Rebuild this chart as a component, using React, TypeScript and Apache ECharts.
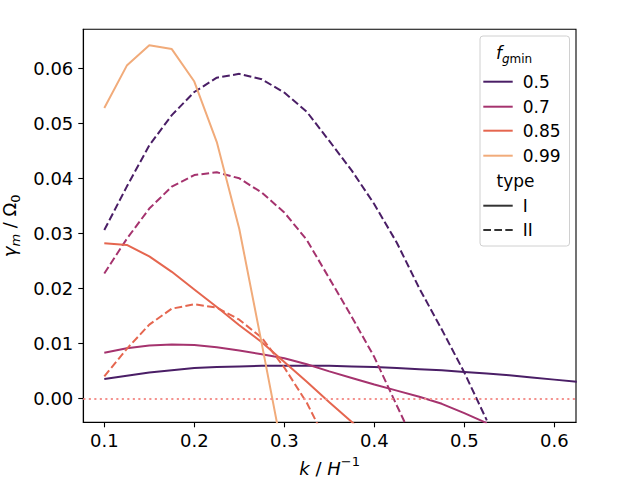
import React, { useEffect, useRef } from "react";
import * as echarts from "echarts";

// ---- data ----
const kValues = [0.1, 0.125, 0.15, 0.175, 0.2, 0.225, 0.25, 0.275, 0.3, 0.325, 0.35, 0.375, 0.4, 0.425, 0.45, 0.475, 0.5, 0.525, 0.55, 0.575, 0.6, 0.625];

const f050TypeI = [0.0035, 0.0041, 0.0047, 0.0051, 0.0055, 0.0057, 0.0058, 0.0059, 0.0059, 0.0059, 0.0059, 0.0058, 0.0057, 0.0055, 0.0053, 0.0051, 0.0048, 0.0045, 0.0042, 0.0038, 0.0034, 0.0030];
const f050TypeII = [0.0306, 0.0385, 0.0460, 0.0515, 0.0557, 0.0583, 0.0590, 0.0580, 0.0556, 0.0521, 0.0468, 0.0414, 0.0353, 0.0283, 0.0200, 0.0125, 0.0047, -0.0040, null, null, null, null];
const f070TypeI = [0.0083, 0.0091, 0.0096, 0.0098, 0.0097, 0.0093, 0.0087, 0.0080, 0.0073, 0.0062, 0.0049, 0.0037, 0.0025, 0.0014, 0.0003, -0.0010, -0.0027, -0.0045, null, null, null, null];
const f070TypeII = [0.0227, 0.0290, 0.0345, 0.0385, 0.0406, 0.0411, 0.0400, 0.0374, 0.0338, 0.0288, 0.0218, 0.0148, 0.0075, -0.0013, -0.0100, null, null, null, null, null, null, null];
const f085TypeI = [0.0282, 0.0279, 0.0258, 0.0230, 0.0198, 0.0166, 0.0133, 0.0102, 0.0066, 0.0030, -0.0007, -0.0043, -0.0080, null, null, null, null, null, null, null, null, null];
const f085TypeII = [0.0040, 0.0090, 0.0134, 0.0163, 0.0171, 0.0165, 0.0143, 0.0110, 0.0056, -0.0008, -0.0090, null, null, null, null, null, null, null, null, null, null, null];
const f099TypeI = [0.0528, 0.0605, 0.0642, 0.0635, 0.0576, 0.0466, 0.0308, 0.0099, -0.0114, null, null, null, null, null, null, null, null, null, null, null, null, null];

const fLabels = ["0.5", "0.7", "0.85", "0.99"];
const typeLabels = ["I", "II"];
const xTicks = [0.1, 0.2, 0.3, 0.4, 0.5, 0.6];
const yTicks = [0, 0.01, 0.02, 0.03, 0.04, 0.05, 0.06];

const COLORS = ["#4a1e66", "#a5336e", "#e5664f", "#f1ab7a"];
const DASH = [7.7, 3.3];
const FONT = "DejaVu Sans";
const TICK_FS = 18;
const LEG_FS = 17;

const seriesDefs = [
  { f: 0, t: 0, data: f050TypeI },
  { f: 0, t: 1, data: f050TypeII },
  { f: 1, t: 0, data: f070TypeI },
  { f: 1, t: 1, data: f070TypeII },
  { f: 2, t: 0, data: f085TypeI },
  { f: 2, t: 1, data: f085TypeII },
  { f: 3, t: 0, data: f099TypeI },
];

function buildOption() {
  const series: any[] = seriesDefs.map((d, i) => ({
    type: "line",
    name: fLabels[d.f] + " " + typeLabels[d.t],
    data: kValues.map((k, j) => [k, d.data[j]]),
    showSymbol: false,
    symbol: "none",
    connectNulls: false,
    clip: true,
    z: 3,
    lineStyle: { color: COLORS[d.f], width: 2, type: d.t === 1 ? DASH : "solid" },
    itemStyle: { color: COLORS[d.f] },
    markLine:
      i === 0
        ? {
            silent: true,
            symbol: ["none", "none"],
            label: { show: false },
            lineStyle: { color: "#f4928e", width: 2, type: [2.1, 3.4] },
            data: [{ yAxis: 0 }],
          }
        : undefined,
  }));

  const legendX = 480;
  const legendRows = [81.7, 106.7, 130.7, 155.7];
  const graphicEls: any[] = [
    {
      type: "rect",
      shape: { x: 480, y: 36, width: 89.5, height: 210, r: 3 },
      style: { fill: "rgba(255,255,255,0.8)", stroke: "#d0d0d0", lineWidth: 1 },
      z: 10,
    },
    {
      type: "text",
      x: 514,
      y: 53,
      z: 11,
      style: {
        text: "{f|f}{g|g}{m|min}",
        align: "center",
        verticalAlign: "middle",
        fill: "#000",
        rich: {
          f: { fontSize: LEG_FS, fontStyle: "italic", fontFamily: FONT, lineHeight: 24, fill: "#000" },
          g: { fontSize: 12, fontStyle: "italic", fontFamily: FONT, verticalAlign: "bottom", lineHeight: 14, fill: "#000" },
          m: { fontSize: 12, fontFamily: FONT, verticalAlign: "bottom", lineHeight: 14, fill: "#000" },
        },
      },
    },
  ];
  fLabels.forEach((lab, i) => {
    graphicEls.push({
      type: "line",
      z: 11,
      shape: { x1: legendX + 3.3, y1: legendRows[i], x2: legendX + 32.7, y2: legendRows[i] },
      style: { stroke: COLORS[i], lineWidth: 2 },
    });
    graphicEls.push({
      type: "text",
      z: 11,
      x: 522.7,
      y: legendRows[i],
      style: { text: lab, fontSize: LEG_FS, fontFamily: FONT, fill: "#000", align: "left", verticalAlign: "middle" },
    });
  });
  graphicEls.push({
    type: "text",
    z: 11,
    x: 515.5,
    y: 180.7,
    style: { text: "type", fontSize: LEG_FS, fontFamily: FONT, fill: "#000", align: "center", verticalAlign: "middle" },
  });
  const typeRows = [205.7, 230];
  typeLabels.forEach((lab, i) => {
    graphicEls.push({
      type: "line",
      z: 11,
      shape: { x1: legendX + 3.3, y1: typeRows[i], x2: legendX + 32.7, y2: typeRows[i] },
      style: { stroke: "#333333", lineWidth: 2, lineDash: i === 1 ? DASH : null },
    });
    graphicEls.push({
      type: "text",
      z: 11,
      x: 522.7,
      y: typeRows[i],
      style: { text: lab, fontSize: LEG_FS, fontFamily: FONT, fill: "#000", align: "left", verticalAlign: "middle" },
    });
  });

  return {
    animation: false,
    backgroundColor: "#ffffff",
    grid: {
      left: 83.3,
      right: 64,
      top: 29.3,
      bottom: 57.7,
      containLabel: false,
      outerBoundsMode: "none",
      show: true,
      borderColor: "#000",
      borderWidth: 1.1,
      backgroundColor: "transparent",
    },
    xAxis: {
      type: "value",
      min: 0.07667,
      max: 0.6241,
      splitLine: { show: false },
      axisLine: { show: true, onZero: false, lineStyle: { color: "#000", width: 1.1 } },
      axisTick: { show: true, inside: false, length: 5, lineStyle: { color: "#000", width: 1.1 }, customValues: xTicks },
      axisLabel: {
        customValues: xTicks,
        formatter: (v: number) => v.toFixed(1),
        fontSize: TICK_FS,
        fontFamily: FONT,
        color: "#000",
        margin: 9,
      },
      name: "{i|k} / {i|H}{s|−1}",
      nameLocation: "middle",
      nameGap: 33,
      nameTextStyle: {
        fontSize: TICK_FS,
        fontFamily: FONT,
        color: "#000",
        rich: {
          i: { fontSize: TICK_FS, fontStyle: "italic", fontFamily: FONT, color: "#000", lineHeight: 26 },
          s: { fontSize: 13, fontFamily: FONT, color: "#000", verticalAlign: "top", lineHeight: 15 },
        },
      },
    },
    yAxis: {
      type: "value",
      min: -0.00436,
      max: 0.0671,
      splitLine: { show: false },
      axisLine: { show: true, onZero: false, lineStyle: { color: "#000", width: 1.1 } },
      axisTick: { show: true, inside: false, length: 5, lineStyle: { color: "#000", width: 1.1 }, customValues: yTicks },
      axisLabel: {
        customValues: yTicks,
        formatter: (v: number) => v.toFixed(2),
        fontSize: TICK_FS,
        fontFamily: FONT,
        color: "#000",
        margin: 10,
      },
      name: "{g|γ}{sm|m} / {t|Ω}{s0|0}",
      nameLocation: "middle",
      nameGap: 58,
      nameTextStyle: {
        fontSize: TICK_FS,
        fontFamily: FONT,
        color: "#000",
        rich: {
          g: { fontSize: TICK_FS, fontStyle: "italic", fontFamily: FONT, color: "#000", lineHeight: 26 },
          t: { fontSize: TICK_FS, fontFamily: FONT, color: "#000", lineHeight: 26 },
          sm: { fontSize: 13, fontStyle: "italic", fontFamily: FONT, color: "#000", verticalAlign: "bottom", lineHeight: 15 },
          s0: { fontSize: 13, fontFamily: FONT, color: "#000", verticalAlign: "bottom", lineHeight: 15 },
        },
      },
    },
    graphic: graphicEls,
    series,
  };
}

export default function App() {
  const ref = useRef<HTMLDivElement>(null);
  useEffect(() => {
    if (!ref.current) return;
    const chart = echarts.init(ref.current, undefined, { renderer: "svg" });
    chart.setOption(buildOption() as any);
    return () => chart.dispose();
  }, []);
  return (
    <div
      ref={ref}
      style={{ position: "fixed", left: 0, top: 0, width: 640, height: 480, background: "#fff" }}
    />
  );
}
